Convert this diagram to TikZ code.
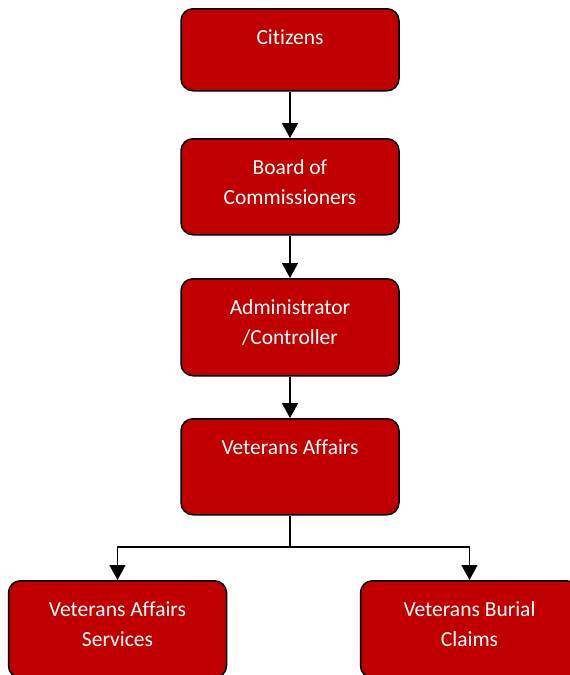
\documentclass[tikz,border=0pt]{standalone}
\usepackage{fontspec}
\setmainfont{Carlito}[Ligatures=NoCommon]
\usetikzlibrary{arrows.meta}
\definecolor{boxred}{HTML}{C00000}
\newcommand{\boxtxt}[2]{\parbox[t][#1][t]{218pt}{\centering\fontsize{21.5}{30}\selectfont\vspace*{15pt}\strut #2\par}}
\begin{document}
\begin{tikzpicture}[x=1pt,y=1pt,
  orgbox/.style={draw=black, line width=1.5pt, fill=boxred, rounded corners=12pt,
    inner sep=0pt, anchor=north, text=white},
  arr/.style={draw=black, line width=1.5pt, -{Triangle[length=15pt,width=16pt]}}]
\useasboundingbox (0,0) rectangle (570,-675);
\node[orgbox] (c) at (290,-8) {\boxtxt{82pt}{Citizens}};
\node[orgbox] (b) at (290,-138) {\boxtxt{96pt}{Board of\\Commissioners}};
\node[orgbox] (a) at (290,-278) {\boxtxt{97pt}{Administrator\\/Controller}};
\node[orgbox] (v) at (290,-418) {\boxtxt{96pt}{Veterans Affairs}};
\node[orgbox] (l) at (117.5,-580) {\boxtxt{97pt}{Veterans Affairs\\Services}};
\node[orgbox] (r) at (469.5,-580) {\boxtxt{97pt}{Veterans Burial\\Claims}};
\coordinate (j) at (290,-547);
\draw[arr] (c.south) -- (b.north);
\draw[arr] (b.south) -- (a.north);
\draw[arr] (a.south) -- (v.north);
\draw[line width=1.5pt] (v.south) -- (j);
\draw[arr] (j) -| (l.north);
\draw[arr] (j) -| (r.north);
\end{tikzpicture}
\end{document}
